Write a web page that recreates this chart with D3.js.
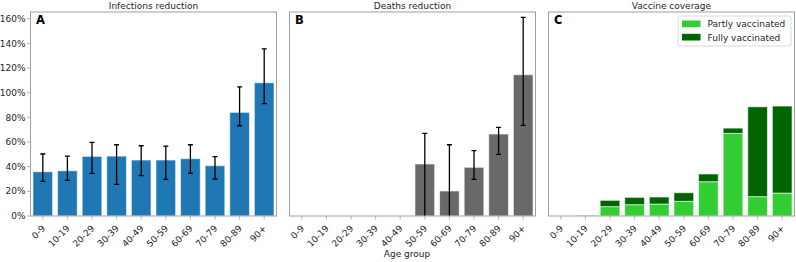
<!DOCTYPE html>
<html>
<head>
<meta charset="utf-8">
<script src="https://cdn.jsdelivr.net/npm/d3@7"></script>
<style>
  body { margin: 0; background: #fff; }
  svg { display: block; font-family: "DejaVu Sans", sans-serif; }
</style>
</head>
<body>
<div id="chart"></div>
<script>
const ageGroups = ["0-9", "10-19", "20-29", "30-39", "40-49", "50-59", "60-69", "70-79", "80-89", "90+"];

// panel A: infections reduction (%), with CI
const infections = [35.9, 36.7, 48.4, 48.6, 45.4, 45.4, 46.5, 40.8, 84.1, 108.1];
const infectionsLow = [28.1, 28.9, 34.6, 25.7, 32.7, 29.7, 34.6, 30.0, 73.2, 91.1];
const infectionsHigh = [50.3, 48.6, 59.7, 57.8, 57.0, 56.7, 57.8, 48.1, 104.8, 135.6];

// panel B: deaths reduction (%), no estimate for the young groups
const deaths = [null, null, null, null, null, 42.2, 20.3, 39.5, 66.5, 114.6];
const deathsLow = [null, null, null, null, null, -10, -20, 29.7, 50.0, 73.5];
const deathsHigh = [null, null, null, null, null, 67.0, 57.8, 53.0, 71.9, 161.1];

// panel C: vaccine coverage (%)
const partlyVaccinated = [0, 0.5, 7.6, 9.2, 9.7, 11.9, 27.8, 67.0, 15.7, 18.6];
const fullyVaccinated = [0, 0, 5.1, 5.9, 5.7, 7.0, 6.3, 4.3, 72.9, 70.6];

const yTicks = [0, 20, 40, 60, 80, 100, 120, 140, 160];

const W = 796, H = 262;
const plotTop = 12, plotBottom = 216, panelW = 246;
const lefts = [30.5, 289.5, 548.5];
const spineColor = "#a0a0a0", textColor = "#262626";

const svg = d3.select("#chart").append("svg")
    .attr("width", W)
    .attr("height", H);

const y = d3.scaleLinear().domain([0, 165.5]).range([plotBottom, plotTop]);

function makePanel(i, title, letter) {
  const x = d3.scaleBand()
      .domain(ageGroups)
      .range([lefts[i], lefts[i] + panelW])
      .paddingInner(0.2)
      .paddingOuter(0.1);

  const g = svg.append("g");

  svg.append("clipPath").attr("id", "clip" + i)
    .append("rect")
      .attr("x", lefts[i]).attr("y", plotTop)
      .attr("width", panelW).attr("height", plotBottom - plotTop);

  const plot = g.append("g").attr("clip-path", "url(#clip" + i + ")");

  // x axis ticks + rotated labels
  const xa = g.append("g");
  ageGroups.forEach(a => {
    const cx = x(a) + x.bandwidth() / 2;
    xa.append("line")
      .attr("x1", cx).attr("x2", cx)
      .attr("y1", plotBottom).attr("y2", plotBottom + 3.5)
      .attr("stroke", spineColor).attr("stroke-width", 0.8);
    xa.append("text")
      .attr("transform", "translate(" + (cx + 3) + "," + (plotBottom + 13) + ") rotate(-45)")
      .attr("text-anchor", "end")
      .attr("font-size", 9)
      .attr("fill", textColor)
      .text(a);
  });

  // title
  g.append("text")
    .attr("x", lefts[i] + panelW / 2)
    .attr("y", 8.5)
    .attr("text-anchor", "middle")
    .attr("font-size", 9)
    .attr("fill", textColor)
    .text(title);

  // panel letter
  g.append("text")
    .attr("x", lefts[i] + 5.5)
    .attr("y", 24)
    .attr("font-size", 11.5)
    .attr("font-weight", "bold")
    .attr("fill", "#000")
    .text(letter);

  return { g, plot, x };
}

function drawErrors(plot, x, low, high) {
  const idx = ageGroups.map((a, i) => i).filter(i => high[i] != null);
  const eg = plot.append("g").attr("stroke", "#000").attr("stroke-width", 1.3);
  idx.forEach(i => {
    const cx = x(ageGroups[i]) + x.bandwidth() / 2;
    eg.append("line").attr("x1", cx).attr("x2", cx).attr("y1", y(low[i])).attr("y2", y(high[i]));
    eg.append("line").attr("x1", cx - 2.5).attr("x2", cx + 2.5).attr("y1", y(low[i])).attr("y2", y(low[i]));
    eg.append("line").attr("x1", cx - 2.5).attr("x2", cx + 2.5).attr("y1", y(high[i])).attr("y2", y(high[i]));
  });
}

function drawFrame(g, i) {
  g.append("rect")
    .attr("x", lefts[i]).attr("y", plotTop)
    .attr("width", panelW).attr("height", plotBottom - plotTop)
    .attr("fill", "none")
    .attr("stroke", spineColor)
    .attr("stroke-width", 1);
}

// ---- Panel A
const A = makePanel(0, "Infections reduction", "A");
A.plot.selectAll(".bar")
  .data(infections)
  .enter().append("rect")
    .attr("x", (d, i) => A.x(ageGroups[i]))
    .attr("width", A.x.bandwidth())
    .attr("y", d => y(d))
    .attr("height", d => plotBottom - y(d))
    .attr("fill", "#1f77b4")
    .attr("stroke", "#fff").attr("stroke-opacity", 0.6).attr("stroke-width", 1);
drawErrors(A.plot, A.x, infectionsLow, infectionsHigh);
drawFrame(A.g, 0);

// y axis on A
const ya = A.g.append("g");
yTicks.forEach(t => {
  ya.append("line")
    .attr("x1", lefts[0] - 3.5).attr("x2", lefts[0])
    .attr("y1", y(t)).attr("y2", y(t))
    .attr("stroke", spineColor).attr("stroke-width", 0.8);
  ya.append("text")
    .attr("x", lefts[0] - 5)
    .attr("y", y(t))
    .attr("dy", "0.35em")
    .attr("text-anchor", "end")
    .attr("font-size", 9)
    .attr("fill", textColor)
    .text(t + "%");
});

// ---- Panel B
const B = makePanel(1, "Deaths reduction", "B");
const deathIdx = ageGroups.map((a, i) => i).filter(i => deaths[i] != null);
B.plot.selectAll(".bar")
  .data(deathIdx)
  .enter().append("rect")
    .attr("x", i => B.x(ageGroups[i]))
    .attr("width", B.x.bandwidth())
    .attr("y", i => y(deaths[i]))
    .attr("height", i => plotBottom - y(deaths[i]))
    .attr("fill", "#696969")
    .attr("stroke", "#fff").attr("stroke-opacity", 0.6).attr("stroke-width", 1);
drawErrors(B.plot, B.x, deathsLow, deathsHigh);
drawFrame(B.g, 1);

B.g.append("text")
  .attr("x", 407)
  .attr("y", 257)
  .attr("text-anchor", "middle")
  .attr("font-size", 9)
  .attr("fill", textColor)
  .text("Age group");

// ---- Panel C
const C = makePanel(2, "Vaccine coverage", "C");
const stackData = ageGroups.map((a, i) => ({ age: a, partly: partlyVaccinated[i], fully: fullyVaccinated[i] }));
const series = d3.stack().keys(["partly", "fully"])(stackData);
const colors = { partly: "#32cd32", fully: "#006400" };
series.forEach(s => {
  C.plot.append("g").selectAll("rect")
    .data(s.filter(d => d[1] - d[0] > 0))
    .enter().append("rect")
      .attr("x", d => C.x(d.data.age))
      .attr("width", C.x.bandwidth())
      .attr("y", d => y(d[1]))
      .attr("height", d => y(d[0]) - y(d[1]))
      .attr("fill", colors[s.key])
      .attr("stroke", "#fff").attr("stroke-opacity", 0.6).attr("stroke-width", 1);
});
drawFrame(C.g, 2);

// legend
const lg = C.g.append("g").attr("transform", "translate(678,16)");
lg.append("rect")
  .attr("width", 113).attr("height", 30)
  .attr("rx", 2)
  .attr("fill", "#fff").attr("fill-opacity", 0.8)
  .attr("stroke", "#d0d0d0").attr("stroke-width", 0.8);
[["Partly vaccinated", colors.partly], ["Fully vaccinated", colors.fully]].forEach((d, i) => {
  lg.append("rect")
    .attr("x", 4).attr("y", 4.5 + i * 13.3)
    .attr("width", 18.5).attr("height", 6.7)
    .attr("fill", d[1]);
  lg.append("text")
    .attr("x", 29.5).attr("y", 11.3 + i * 13.3)
    .attr("font-size", 9)
    .attr("fill", textColor)
    .text(d[0]);
});
</script>
</body>
</html>
